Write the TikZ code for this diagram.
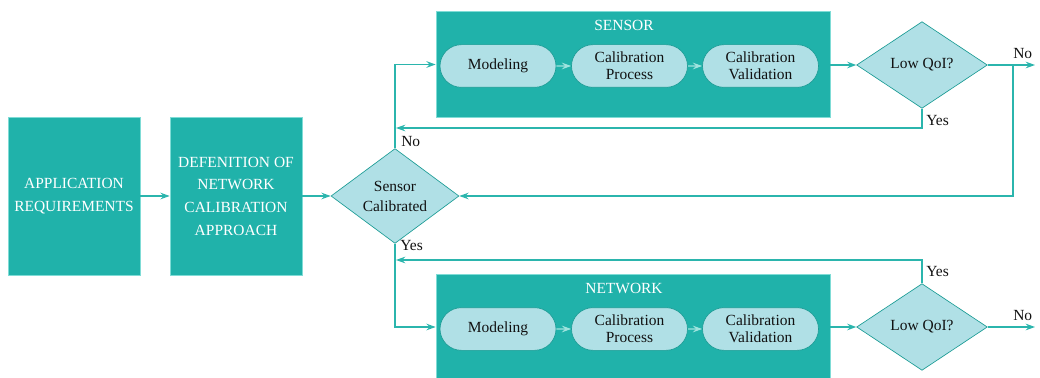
\documentclass[tikz,border=0pt]{standalone}
\usepackage{fontspec}
\setmainfont{Liberation Serif}
\newfontfamily\tms{Liberation Serif}
\usetikzlibrary{shapes.geometric,shapes.misc,arrows.meta}
\definecolor{tealfill}{HTML}{20B2AA}
\definecolor{pillfill}{HTML}{B0E0E6}
\definecolor{pilledge}{HTML}{1C9C95}
\definecolor{boxedge}{HTML}{7FDCD6}
\definecolor{linecol}{HTML}{2BB5AD}
\definecolor{innerarr}{HTML}{9FE3DE}
\definecolor{txt}{HTML}{111111}
\begin{document}
\begin{tikzpicture}[x=0.75pt,y=-0.75pt,
  font=\tms\fontsize{11.6}{13}\selectfont,
  bigbox/.style={rectangle, fill=tealfill, draw=boxedge, line width=0.5pt, text=white,
    inner sep=0pt, align=center, minimum width=99pt, minimum height=118.5pt,
    font=\tms\fontsize{11.6}{17}\selectfont},
  groupbox/.style={rectangle, fill=tealfill, draw=boxedge, line width=0.5pt, inner sep=0pt,
    minimum width=295.5pt, minimum height=79pt},
  grouplabel/.style={text=white, inner sep=0pt},
  pillbox/.style={rounded rectangle, fill=pillfill, draw=pilledge, line width=0.5pt,
    text=txt, inner sep=0pt, align=center, minimum width=87pt, minimum height=32pt,
    font=\tms\fontsize{11.6}{12.8}\selectfont},
  decision/.style={diamond, fill=pillfill, draw=pilledge, line width=0.5pt, text=txt,
    inner sep=0pt, align=center, font=\tms\fontsize{11.6}{15}\selectfont},
  conn/.style={draw=linecol, line width=0.9pt},
  arr/.style={conn, -{Stealth[length=7pt,width=5pt,inset=2.5pt]}},
  innerconn/.style={arr, draw=innerarr},
  lbl/.style={text=txt, inner sep=0pt, anchor=west}
]
\useasboundingbox (0,0) rectangle (1040,378);

% left boxes
\node[bigbox] (app) at (74,196) {APPLICATION\\REQUIREMENTS};
\node[bigbox] (def) at (236,196) {DEFENITION OF\\NETWORK\\CALIBRATION\\APPROACH};

% sensor calibrated decision
\node[decision, minimum width=96pt, minimum height=66pt] (sc) at (395,196) {Sensor\\Calibrated};

% sensor group
\node[groupbox] (sgrp) at (633,64.5) {};
\node[grouplabel] (slbl) at (624,25) {SENSOR};
\node[pillbox] (sm) at (498,66) {Modeling};
\node[pillbox] (sp) at (629.5,66) {Calibration\\Process};
\node[pillbox] (sv) at (760.5,66) {Calibration\\Validation};
\node[decision, minimum width=98pt, minimum height=65pt] (q1) at (922,65) {Low QoI?};

% network group
\node[groupbox] (ngrp) at (633,327) {};
\node[grouplabel] (nlbl) at (624,288) {NETWORK};
\node[pillbox] (nm) at (498,329) {Modeling};
\node[pillbox] (np) at (629.5,329) {Calibration\\Process};
\node[pillbox] (nv) at (760.5,329) {Calibration\\Validation};
\node[decision, minimum width=98pt, minimum height=65pt] (q2) at (922,327) {Low QoI?};

% coordinates
\coordinate (no1) at (1035,65);
\coordinate (j1) at (1013,65);
\coordinate (y1) at (922,128);
\coordinate (y1e) at (396,128);
\coordinate (no2) at (1035,327);
\coordinate (y2) at (922,260);
\coordinate (y2e) at (396,260);

% connectors
\draw[arr] (app) -- (def);
\draw[arr] (def) -- (sc);
\draw[arr] (sc.north) |- (sgrp.west);
\draw[arr] (sc.south) |- (ngrp.west);
\draw[innerconn] (sm) -- (sp);
\draw[innerconn] (sp) -- (sv);
\draw[innerconn] (nm) -- (np);
\draw[innerconn] (np) -- (nv);
\draw[arr] (sgrp.east |- q1.west) -- (q1.west);
\draw[arr] (ngrp.east |- q2.west) -- (q2.west);
\draw[arr] (q1.east) -- (no1);
\draw[arr] (q2.east) -- (no2);
\draw[arr] (j1) |- (sc.east);
\draw[arr] (q1.south) -- (y1) -- (y1e);
\draw[arr] (q2.north) -- (y2) -- (y2e);

% labels
\node[lbl, anchor=south west] (lno1) at (1013,59) {No};
\node[lbl, anchor=south west] (lno2) at (1013,321) {No};
\node[lbl] (lyes1) at (926,121) {Yes};
\node[lbl] (lyes2) at (926,272) {Yes};
\node[lbl] (lno3) at (401,142) {No};
\node[lbl] (lyes3) at (400,246) {Yes};
\end{tikzpicture}
\end{document}
